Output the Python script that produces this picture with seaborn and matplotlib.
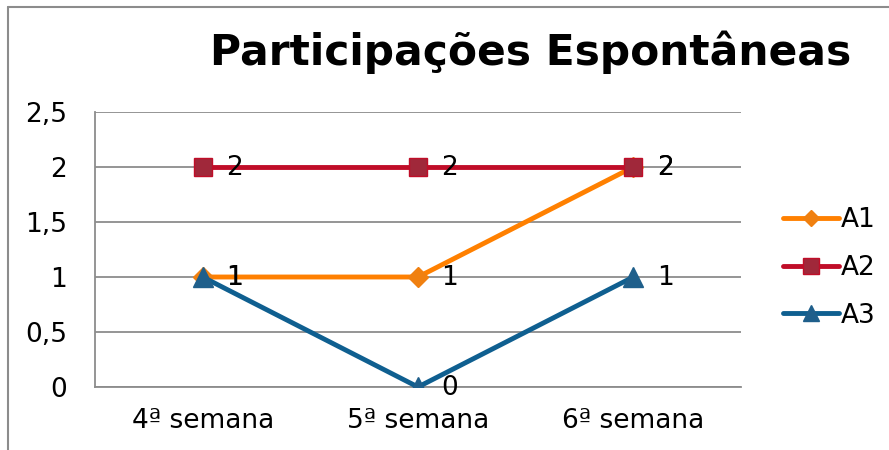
import matplotlib
matplotlib.use("Agg")
import matplotlib.pyplot as plt
import seaborn as sns
import pandas as pd
from matplotlib.lines import Line2D
from matplotlib.ticker import FuncFormatter

categories = ["4ª semana", "5ª semana", "6ª semana"]
series_names = ["A1", "A2", "A3"]
a1 = [1, 1, 2]
a2 = [2, 2, 2]
a3 = [1, 0, 1]
yticks = [0, 0.5, 1, 1.5, 2, 2.5]

sns.set_theme(style="white")
plt.rcParams['font.family'] = ['DejaVu Sans']

fig = plt.figure(figsize=(8.89, 4.5), dpi=100)
ax = fig.add_axes([95/889, 1-387/450, (741-95)/889, (387-112)/450])

styles = {
    "A1": dict(color="#FF8000", marker="D", mfc="#F08010", mec="#F08010", ms=10),
    "A2": dict(color="#C00D28", marker="s", mfc="#A0283A", mec="#C00D28", ms=13),
    "A3": dict(color="#0F5F90", marker="^", mfc="#1F5F8B", mec="#1F5F8B", ms=14),
}
data = {"A1": a1, "A2": a2, "A3": a3}

for name in series_names:
    df = pd.DataFrame({"x": list(range(len(categories))), "y": data[name]})
    st = styles[name]
    sns.lineplot(data=df, x="x", y="y", ax=ax, color=st["color"], lw=3.5,
                 marker=st["marker"], markerfacecolor=st["mfc"],
                 markeredgecolor=st["mec"], markersize=st["ms"],
                 markeredgewidth=1, label=name, zorder=3, legend=False)

for name in series_names:
    for i, v in enumerate(data[name]):
        ax.annotate(f"{v}".replace(".", ","), (i, v), xytext=(17, -1),
                    textcoords="offset points", ha="left", va="center",
                    fontsize=19, color="black", zorder=5)

ax.set_xlim(-0.5, 2.5)
ax.set_ylim(0, 2.5)
ax.set_xticks(range(len(categories)))
ax.set_xticklabels(categories)
ax.set_yticks(yticks)
ax.yaxis.set_major_formatter(FuncFormatter(lambda v, p: (f"{v:g}").replace(".", ",")))
ax.tick_params(axis="y", labelsize=19, pad=20, length=0, labelcolor="black")
ax.tick_params(axis="x", labelsize=19, pad=15, length=0, labelcolor="black")
ax.set_xlabel("")
ax.set_ylabel("")
ax.grid(axis="y", color="#8C8C8C", lw=1.3)
ax.set_axisbelow(True)
for s in ["top", "right"]:
    ax.spines[s].set_visible(False)
for s in ["left", "bottom"]:
    ax.spines[s].set_color("#8C8C8C")
    ax.spines[s].set_linewidth(1.3)

handles = [Line2D([0], [0], color=styles[n]["color"], lw=3.5, marker=styles[n]["marker"],
                  markerfacecolor=styles[n]["mfc"], markeredgecolor=styles[n]["mec"],
                  markersize=styles[n]["ms"] * 0.85) for n in series_names]
fig.legend(handles, series_names, loc="center left", bbox_to_anchor=(770/889, 1-268/450),
           frameon=False, fontsize=19, handlelength=2.1, handletextpad=0.1,
           labelspacing=0.82, borderpad=0, labelcolor="black")

fig.text(531/889, 1-52/450, "Participações Espontâneas", ha="center", va="center",
         fontsize=30.5, fontweight="bold", color="black")

# outer chart frame (partially visible)
fig.add_artist(Line2D([8/889, 8/889], [1-7/450, 0], color="#8C8C8C", lw=1.5))
fig.add_artist(Line2D([8/889, 1], [1-7/450, 1-7/450], color="#8C8C8C", lw=1.5))

fig.savefig("out.png", dpi=100)
